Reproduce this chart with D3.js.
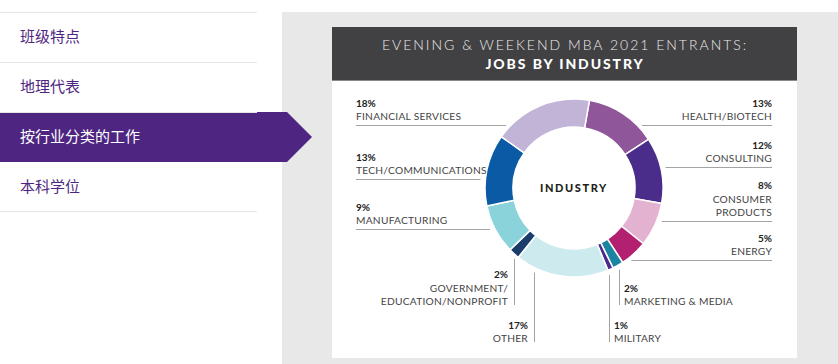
<!DOCTYPE html>
<html>
<head>
<meta charset="utf-8">
<script src="https://cdn.jsdelivr.net/npm/d3@7"></script>
<style>
  body { margin: 0; background: #fff; }
  svg { display: block; }
  .nav-text { font-family: "Noto Sans CJK SC", sans-serif; font-size: 15px; }
  .lbl { font-family: Lato, "Open Sans", sans-serif; font-size: 10.2px; fill: #444; letter-spacing: 0.25px; }
  .pct { font-family: Lato, "Open Sans", sans-serif; font-size: 10px; font-weight: bold; fill: #222; }
  .lead { stroke: #a3a3a3; stroke-width: 1; fill: none; }
</style>
</head>
<body>
<svg width="838" height="364"></svg>
<script>
// nav menu
var navItems = ["班级特点", "地理代表", "按行业分类的工作", "本科学位"];
var activeNav = 2;

// chart data, clockwise from the top
var categories = ["HEALTH/BIOTECH", "CONSULTING", "CONSUMER PRODUCTS", "ENERGY",
    "MARKETING & MEDIA", "MILITARY", "OTHER", "GOVERNMENT/ EDUCATION/NONPROFIT",
    "MANUFACTURING", "TECH/COMMUNICATIONS", "FINANCIAL SERVICES"];
var values = [13, 12, 8, 5, 2, 1, 17, 2, 9, 13, 18];
var colors = ["#8f5699", "#4a2d8a", "#e4b2d1", "#b3206f", "#1c84a1", "#4b2b8f",
    "#cdebef", "#1b3d6c", "#8ad3da", "#0b5aa6", "#c1b4d7"];

// label text lines per slice
var labelLines = [["HEALTH/BIOTECH"], ["CONSULTING"], ["CONSUMER", "PRODUCTS"], ["ENERGY"],
    ["MARKETING & MEDIA"], ["MILITARY"], ["OTHER"], ["GOVERNMENT/", "EDUCATION/NONPROFIT"],
    ["MANUFACTURING"], ["TECH/COMMUNICATIONS"], ["FINANCIAL SERVICES"]];

var svg = d3.select("svg");

// ---- left nav ----
var nav = svg.append("g");
nav.selectAll("line.sep")
    .data([12, 62, 112, 211])
    .enter().append("line")
    .attr("x1", 0).attr("x2", 257)
    .attr("y1", function(d) { return d + 0.5; })
    .attr("y2", function(d) { return d + 0.5; })
    .attr("stroke", "#e6e6e6");

// gray panel
svg.append("rect")
    .attr("x", 282).attr("y", 12)
    .attr("width", 556).attr("height", 352)
    .attr("fill", "#e8e8e8");

var rowY = d3.scaleBand().domain(d3.range(navItems.length)).range([12, 212]);

// active tab with arrow
var a0 = rowY(activeNav), a1 = a0 + rowY.bandwidth();
svg.append("path")
    .attr("d", "M0," + a0 + "H287L312," + (a0 + a1) / 2 + "L287," + a1 + "H0Z")
    .attr("fill", "#4e2681");

nav.raise();
svg.selectAll("text.nav")
    .data(navItems)
    .enter().append("text")
    .attr("class", "nav-text")
    .attr("x", 20)
    .attr("y", function(d, i) { return rowY(i) + rowY.bandwidth() / 2; })
    .attr("dy", "0.36em")
    .attr("fill", function(d, i) { return i === activeNav ? "#fff" : "#4e2681"; })
    .text(function(d) { return d; });

// ---- card ----
var card = svg.append("g");
card.append("rect")
    .attr("x", 332).attr("y", 27)
    .attr("width", 465).attr("height", 331)
    .attr("fill", "#fff");
card.append("rect")
    .attr("x", 332).attr("y", 27)
    .attr("width", 465).attr("height", 53)
    .attr("fill", "#414042");
card.append("line")
    .attr("x1", 332).attr("x2", 797).attr("y1", 80.5).attr("y2", 80.5)
    .attr("stroke", "#8a8a8a");

card.append("text")
    .attr("x", 565).attr("y", 50)
    .attr("text-anchor", "middle")
    .style("font-family", "Lato, sans-serif")
    .style("font-size", "14px")
    .style("font-weight", 300)
    .style("letter-spacing", "2px")
    .attr("fill", "#ececec")
    .text("EVENING & WEEKEND MBA 2021 ENTRANTS:");
card.append("text")
    .attr("x", 565).attr("y", 69)
    .attr("text-anchor", "middle")
    .style("font-family", "Lato, sans-serif")
    .style("font-size", "14px")
    .style("font-weight", 900)
    .style("letter-spacing", "1.9px")
    .attr("fill", "#fff")
    .text("JOBS BY INDUSTRY");

// ---- donut ----
var cx = 574, cy = 188, outerR = 89, innerR = 61;
var offset = 10 * Math.PI / 180;

var pie = d3.pie().sort(null).value(function(d) { return d; })
    .startAngle(offset).endAngle(offset + 2 * Math.PI);
var arc = d3.arc().innerRadius(innerR).outerRadius(outerR);
var arcs = pie(values);

var donut = svg.append("g").attr("transform", "translate(" + cx + "," + cy + ")");
donut.selectAll("path")
    .data(arcs)
    .enter().append("path")
    .attr("d", arc)
    .attr("fill", function(d, i) { return colors[i]; })
    .attr("stroke", "#fff")
    .attr("stroke-width", 1.5);

donut.append("text")
    .attr("text-anchor", "middle")
    .attr("dy", "0.36em")
    .style("font-family", "Lato, sans-serif")
    .style("font-size", "11px")
    .style("font-weight", 900)
    .style("letter-spacing", "1.6px")
    .attr("fill", "#231f20")
    .text("INDUSTRY");

// ---- labels ----
// side: where the label sits; at: leader line y (horizontal) or x (vertical)
var labelLayout = [
    { side: "right", at: 125 },
    { side: "right", at: 167 },
    { side: "right", at: 221 },
    { side: "right", at: 260 },
    { side: "below-right", at: 619, bottom: 305 },
    { side: "below-right", at: 609, bottom: 342 },
    { side: "below-left", at: 534, bottom: 342 },
    { side: "below-left", at: 514, bottom: 305 },
    { side: "left", at: 229 },
    { side: "left", at: 179 },
    { side: "left", at: 125 }
];
var leftX = 356, rightX = 772, gap = 5, lineH = 13.5;

var lab = svg.append("g");
labelLayout.forEach(function(L, i) {
    var lines = labelLines[i];
    var g = lab.append("g");
    if (L.side === "left" || L.side === "right") {
        var dy = L.at - cy;
        var half = Math.sqrt(outerR * outerR - dy * dy) + gap;
        var x1 = L.side === "left" ? leftX : cx + half;
        var x2 = L.side === "left" ? cx - half : rightX;
        g.append("line").attr("class", "lead")
            .attr("x1", x1).attr("x2", x2)
            .attr("y1", L.at + 0.5).attr("y2", L.at + 0.5);
        var tx = L.side === "left" ? leftX : rightX;
        var anchor = L.side === "left" ? "start" : "end";
        var yBase = L.at - 5 - (lines.length - 1) * lineH;
        g.append("text").attr("class", "pct")
            .attr("x", tx).attr("y", yBase - lineH)
            .attr("text-anchor", anchor)
            .text(values[i] + "%");
        lines.forEach(function(t, k) {
            g.append("text").attr("class", "lbl")
                .attr("x", tx).attr("y", yBase + k * lineH)
                .attr("text-anchor", anchor)
                .text(t);
        });
    } else {
        var dx = L.at - cx;
        var top = cy + Math.sqrt(outerR * outerR - dx * dx) + gap;
        g.append("line").attr("class", "lead")
            .attr("x1", L.at + 0.5).attr("x2", L.at + 0.5)
            .attr("y1", top).attr("y2", L.bottom);
        var left = L.side === "below-left";
        var tx2 = left ? L.at - 6 : L.at + 5;
        var anchor2 = left ? "end" : "start";
        var yLast = L.bottom;
        var yFirst = yLast - (lines.length - 1) * lineH;
        g.append("text").attr("class", "pct")
            .attr("x", tx2).attr("y", yFirst - lineH)
            .attr("text-anchor", anchor2)
            .text(values[i] + "%");
        lines.forEach(function(t, k) {
            g.append("text").attr("class", "lbl")
                .attr("x", tx2).attr("y", yFirst + k * lineH)
                .attr("text-anchor", anchor2)
                .text(t);
        });
    }
});
</script>
</body>
</html>
